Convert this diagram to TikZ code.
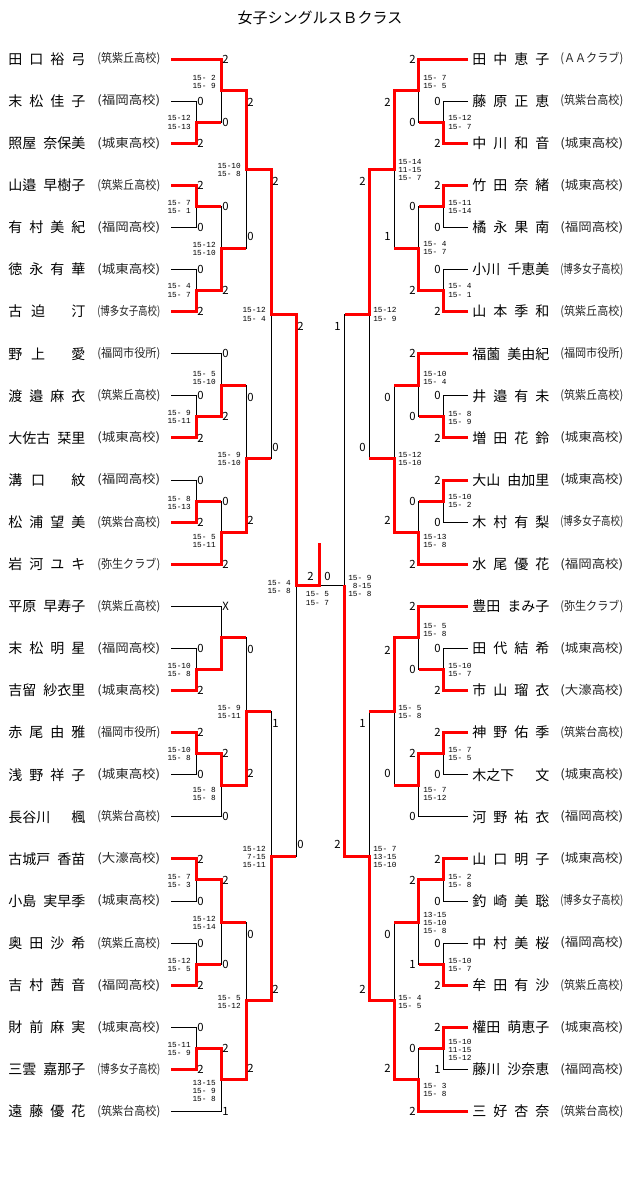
\documentclass[tikz,border=0pt]{standalone}
\usepackage{fontspec}
\setmainfont{Noto Sans CJK JP}
\newfontfamily\gamefont{Liberation Mono}

\begin{document}
\begin{tikzpicture}[x=0.75pt, y=-0.75pt,
    win/.style={red, line width=2.25pt},
    lose/.style={black, line width=0.75pt},
    pname/.style={anchor=west, inner sep=0pt, font=\fontsize{10.5pt}{12pt}\selectfont},
    team/.style={anchor=west, inner sep=0pt, text=black!85, font=\fontsize{9pt}{10pt}\selectfont},
    pts/.style={inner sep=0pt, font=\fontsize{8.5pt}{10pt}\selectfont},
    games/.style={inner sep=0pt, font=\gamefont\fontsize{5.8pt}{6.25pt}\selectfont}]
\useasboundingbox (0,0) rectangle (640,1193);
\node[font=\fontsize{11.25pt}{13pt}\selectfont] (title) at (320,18) {女子シングルスＢクラス};

% left half
\foreach \i/\nm/\tm in {0/{田 口 裕 弓}/筑紫丘高校, 1/{末 松 佳 子}/福岡高校, 2/{照屋 奈保美}/城東高校,
    3/{山邉 早樹子}/筑紫丘高校, 4/{有 村 美 紀}/福岡高校, 5/{徳 永 有 華}/城東高校,
    6/{古 迫 ~ 汀}/博多女子高校, 7/{野 上 ~ 愛}/福岡市役所, 8/{渡 邉 麻 衣}/筑紫丘高校,
    9/{大佐古 栞里}/城東高校, 10/{溝 口 ~ 紋}/福岡高校, 11/{松 浦 望 美}/筑紫台高校,
    12/{岩 河 ユ キ}/弥生クラブ, 13/{平原 早寿子}/筑紫丘高校, 14/{末 松 明 星}/福岡高校,
    15/{吉留 紗衣里}/城東高校, 16/{赤 尾 由 雅}/福岡市役所, 17/{浅 野 祥 子}/城東高校,
    18/{長谷川 楓}/筑紫台高校, 19/{古城戸 香苗}/大濠高校, 20/{小島 実早季}/城東高校,
    21/{奥 田 沙 希}/筑紫丘高校, 22/{吉 村 茜 音}/福岡高校, 23/{財 前 麻 実}/城東高校,
    24/{三雲 嘉那子}/博多女子高校, 25/{遠 藤 優 花}/筑紫台高校}{
  \node[pname] (pl\i) at (8,{59+42.1*\i}) {\makebox[57.75pt][s]{\spaceskip=0pt plus 1fil\relax\nm}};
  \node[team] (tl\i) at (97,{59+42.1*\i}) {\resizebox{47.25pt}{\height}{(\tm)}};
  \coordinate (a\i) at (171,{59+42.1*\i});
}

% right half
\foreach \i/\nm/\tm in {0/{田 中 恵 子}/ＡＡクラブ, 1/{藤 原 正 恵}/筑紫台高校, 2/{中 川 和 音}/城東高校,
    3/{竹 田 奈 緒}/城東高校, 4/{橘 永 果 南}/福岡高校, 5/{小川 千恵美}/博多女子高校,
    6/{山 本 季 和}/筑紫丘高校, 7/{福薗 美由紀}/福岡市役所, 8/{井 邉 有 未}/筑紫丘高校,
    9/{増 田 花 鈴}/城東高校, 10/{大山 由加里}/城東高校, 11/{木 村 有 梨}/博多女子高校,
    12/{水 尾 優 花}/福岡高校, 13/{豊田 まみ子}/弥生クラブ, 14/{田 代 結 希}/城東高校,
    15/{市 山 瑠 衣}/大濠高校, 16/{神 野 佑 季}/筑紫台高校, 17/{木之下 文}/城東高校,
    18/{河 野 祐 衣}/福岡高校, 19/{山 口 明 子}/城東高校, 20/{釣 崎 美 聡}/博多女子高校,
    21/{中 村 美 桜}/福岡高校, 22/{牟 田 有 沙}/筑紫丘高校, 23/{權田 萌恵子}/城東高校,
    24/{藤川 沙奈恵}/福岡高校, 25/{三 好 杏 奈}/筑紫台高校}{
  \node[pname] (pr\i) at (472,{59+42.1*\i}) {\makebox[57.75pt][s]{\spaceskip=0pt plus 1fil\relax\nm}};
  \node[team] (tr\i) at (560,{59+42.1*\i}) {\resizebox{47.25pt}{\height}{(\tm)}};
  \coordinate (b\i) at (468,{59+42.1*\i});
}

\foreach \n/\x/\y in {m1/196/122.15, m2/221/90.6, m3/196/206.35, m4/196/290.55, m5/221/248.45,
    m6/246/169.5, m7/196/416.85, m8/221/385.3, m9/196/501.05, m10/221/532.6, m11/246/458.95,
    m12/271/314.2, m13/196/669.45, m14/221/637.9, m15/196/753.65, m16/221/785.2, m17/246/711.55,
    m18/196/879.95, m19/196/964.15, m20/221/922.05, m21/196/1048.35, m22/221/1079.9,
    m23/246/1000.95, m24/271/856.25, m25/296/585.2,
    n1/443.5/122.15, n2/418.75/90.6, n3/443.5/206.35, n4/443.5/290.55, n5/418.75/248.45,
    n6/394/169.5, n7/443.5/416.85, n8/418.75/385.3, n9/443.5/501.05, n10/418.75/532.6,
    n11/394/458.95, n12/369.25/314.2, n13/443.5/669.45, n14/418.75/637.9, n15/443.5/753.65,
    n16/418.75/785.2, n17/394/711.55, n18/443.5/879.95, n19/443.5/964.15, n20/418.75/922.05,
    n21/443.5/1048.35, n22/418.75/1079.9, n23/394/1000.95, n24/369.25/856.25, n25/344.5/585.2,
    fin/319/585.2}
  \coordinate (\n) at (\x,\y);

\draw[lose] (a1) -| (m1) (m1) -| (m2) (a4) -| (m3) (a5) -| (m4) (m3) -| (m5) (m5) -| (m6)
  (a8) -| (m7) (a7) -| (m8) (a10) -| (m9) (m9) -| (m10) (m8) -| (m11) (m11) -| (m12)
  (a14) -| (m13) (a13) -| (m14) (a17) -| (m15) (a18) -| (m16) (m14) -| (m17)
  (a20) -| (m18) (a21) -| (m19) (m19) -| (m20) (a23) -| (m21) (a25) -| (m22) (m20) -| (m23)
  (m17) -| (m24) (m24) -| (m25);
\draw[lose] (b1) -| (n1) (n1) -| (n2) (b4) -| (n3) (b5) -| (n4) (n3) -| (n5) (n5) -| (n6)
  (b8) -| (n7) (n7) -| (n8) (b11) -| (n9) (n9) -| (n10) (n8) -| (n11) (n11) -| (n12)
  (b14) -| (n13) (n13) -| (n14) (b17) -| (n15) (b18) -| (n16) (n16) -| (n17)
  (b20) -| (n18) (b21) -| (n19) (n19) -| (n20) (b24) -| (n21) (n21) -| (n22) (n20) -| (n23)
  (n17) -| (n24) (n12) -| (n25) (n25) -- (fin);

\draw[win] (a2) -| (m1) -- ++(25,0) (a0) -| (m2) -- ++(25,0) (a3) -| (m3) -- ++(25,0)
  (a6) -| (m4) -- ++(25,0) (m4) -| (m5) -- ++(25,0) (m2) -| (m6) -- ++(25,0)
  (a9) -| (m7) -- ++(25,0) (m7) -| (m8) -- ++(25,0) (a11) -| (m9) -- ++(25,0)
  (a12) -| (m10) -- ++(25,0) (m10) -| (m11) -- ++(25,0) (m6) -| (m12) -- ++(25,0)
  (a15) -| (m13) -- ++(25,0) (m13) -| (m14) -- ++(25,0) (a16) -| (m15) -- ++(25,0)
  (m15) -| (m16) -- ++(25,0) (m16) -| (m17) -- ++(25,0) (a19) -| (m18) -- ++(25,0)
  (a22) -| (m19) -- ++(25,0) (m18) -| (m20) -- ++(25,0) (a24) -| (m21) -- ++(25,0)
  (m21) -| (m22) -- ++(25,0) (m22) -| (m23) -- ++(25,0) (m23) -| (m24) -- ++(25,0)
  (m12) -| (m25) -- (fin) -- ++(0,-42);
\draw[win] (b2) -| (n1) -- ++(-24.75,0) (b0) -| (n2) -- ++(-24.75,0) (b3) -| (n3) -- ++(-24.75,0)
  (b6) -| (n4) -- ++(-24.75,0) (n4) -| (n5) -- ++(-24.75,0) (n2) -| (n6) -- ++(-24.75,0)
  (b9) -| (n7) -- ++(-24.75,0) (b7) -| (n8) -- ++(-24.75,0) (b10) -| (n9) -- ++(-24.75,0)
  (b12) -| (n10) -- ++(-24.75,0) (n10) -| (n11) -- ++(-24.75,0) (n6) -| (n12) -- ++(-24.75,0)
  (b15) -| (n13) -- ++(-24.75,0) (b13) -| (n14) -- ++(-24.75,0) (b16) -| (n15) -- ++(-24.75,0)
  (n15) -| (n16) -- ++(-24.75,0) (n14) -| (n17) -- ++(-24.75,0) (b19) -| (n18) -- ++(-24.75,0)
  (b22) -| (n19) -- ++(-24.75,0) (n18) -| (n20) -- ++(-24.75,0) (b23) -| (n21) -- ++(-24.75,0)
  (b25) -| (n22) -- ++(-24.75,0) (n22) -| (n23) -- ++(-24.75,0) (n23) -| (n24) -- ++(-24.75,0)
  (n24) -| (n25);

% points won
\foreach \x/\y/\s [count=\k] in {197/101.1/0, 197/143.2/2, 197/185.3/2, 197/227.4/0, 197/269.5/0,
    197/311.6/2, 197/395.8/0, 197/437.9/2, 197/480/0, 197/522.1/2, 197/648.4/0, 197/690.5/2,
    197/732.6/2, 197/774.7/0, 197/858.9/2, 197/901/0, 197/943.1/0, 197/985.2/2, 197/1027.3/0,
    197/1069.4/2, 222/59/2, 222/122.15/0, 222/206.35/0, 222/290.55/2, 222/353.7/0, 222/416.85/2,
    222/501.05/0, 222/564.2/2, 222/606.3/X, 222/753.65/2, 222/816.8/0, 222/879.95/2,
    222/964.15/0, 222/1048.35/2, 222/1111.5/1, 247/102.6/2, 247/236.5/0, 247/397.3/0,
    247/520.6/2, 247/649.9/0, 247/773.2/2, 247/934/0, 247/1067.9/2, 272/181.5/2, 272/447/0,
    272/723.5/1, 272/989/2, 297/326.2/2, 297/844.3/0, 307/576.5/2, 324/576.5/0}
  \node[pts, anchor=west] (sl\k) at (\x,\y) {\s};
\foreach \x/\y/\s [count=\k] in {441/101.1/0, 441/143.2/2, 441/185.3/2, 441/227.4/0, 441/269.5/0,
    441/311.6/2, 441/395.8/0, 441/437.9/2, 441/480/2, 441/522.1/0, 441/648.4/0, 441/690.5/2,
    441/732.6/2, 441/774.7/0, 441/858.9/2, 441/901/0, 441/943.1/0, 441/985.2/2, 441/1027.3/2,
    441/1069.4/1, 416/59/2, 416/122.15/0, 416/206.35/0, 416/290.55/2, 416/353.7/2, 416/416.85/0,
    416/501.05/0, 416/564.2/2, 416/606.3/2, 416/669.45/0, 416/753.65/2, 416/816.8/0,
    416/879.95/2, 416/964.15/1, 416/1048.35/0, 416/1111.5/2, 391/102.6/2, 391/236.5/1,
    391/397.3/0, 391/520.6/2, 391/649.9/2, 391/773.2/0, 391/934/0, 391/1067.9/2, 366/181.5/2,
    366/447/0, 366/723.5/1, 366/989/2, 341/326.2/1, 341/844.3/2}
  \node[pts, anchor=east] (sr\k) at (\x,\y) {\s};

% game scores
\foreach \x/\y/\s [count=\k] in {191/122.5/{15-12\\15-13}, 216/82/{15- 2\\15- 9},
    191/207/{15- 7\\15- 1}, 191/290.5/{15- 4\\15- 7}, 216/249/{15-12\\15-10},
    241/170/{15-10\\15- 8}, 191/417/{15- 9\\15-11}, 216/378/{15- 5\\15-10},
    191/503/{15- 8\\15-13}, 216/541/{15- 5\\15-11}, 241/459/{15- 9\\15-10},
    266/314.5/{15-12\\15- 4}, 191/670/{15-10\\15- 8}, 191/754/{15-10\\15- 8},
    216/794/{15- 8\\15- 8}, 241/712/{15- 9\\15-11}, 191/881/{15- 7\\15- 3},
    191/965/{15-12\\15- 5}, 216/923/{15-12\\15-14}, 191/1049/{15-11\\15- 9},
    216/1091/{13-15\\15- 9\\15- 8}, 241/1002/{15- 5\\15-12}, 266/857/{15-12\\7-15\\15-11},
    291/587/{15- 4\\15- 8}}
  \node[games, anchor=east, align=right] (gl\k) at (\x,\y) {\s};
\foreach \x/\y/\s [count=\k] in {448/122.5/{15-12\\15- 7}, 423/82/{15- 7\\15- 5},
    448/207/{15-11\\15-14}, 448/290.5/{15- 4\\15- 1}, 423/248/{15- 4\\15- 7},
    398/170/{15-14\\11-15\\15- 7}, 448/418/{15- 8\\15- 9}, 423/378/{15-10\\15- 4},
    448/501/{15-10\\15- 2}, 423/541/{15-13\\15- 8}, 398/459/{15-12\\15-10},
    373/314.5/{15-12\\15- 9}, 448/670/{15-10\\15- 7}, 423/630/{15- 5\\15- 8},
    448/754/{15- 7\\15- 5}, 423/794/{15- 7\\15-12}, 398/712/{15- 5\\15- 8},
    448/881/{15- 2\\15- 8}, 448/965/{15-10\\15- 7}, 423/923/{13-15\\15-10\\15- 8},
    448/1050/{15-10\\11-15\\15-12}, 423/1090/{15- 3\\15- 8}, 398/1002/{15- 4\\15- 5},
    373/857/{15- 7\\13-15\\15-10}, 348/586/{15- 9\\~8-15\\15- 8}}
  \node[games, anchor=west, align=left] (gr\k) at (\x,\y) {\s};
\node[games, align=left] (gfin) at (317.5,598.5) {15- 5\\15- 7};
\end{tikzpicture}
\end{document}
